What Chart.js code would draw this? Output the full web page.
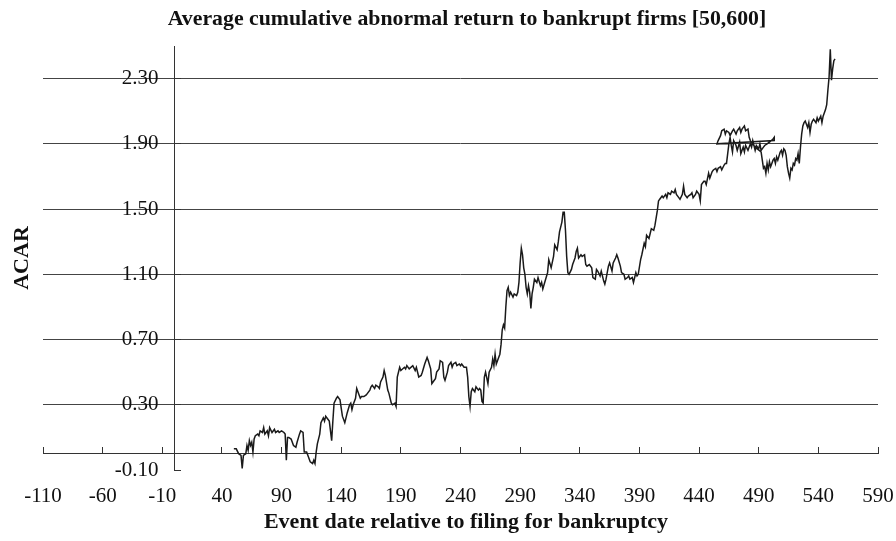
<!DOCTYPE html>
<html>
<head>
<meta charset="utf-8">
<title>Average cumulative abnormal return to bankrupt firms</title>
<script src="https://cdn.jsdelivr.net/npm/chart.js@4.4.1/dist/chart.umd.min.js"></script>
<style>
  html, body { margin: 0; padding: 0; background: #fff; }
  #wrap { width: 896px; height: 541px; }
</style>
</head>
<body>
<div id="wrap"><canvas id="acarChart" width="896" height="541"></canvas></div>
<script>
// event day relative to filing, and the ACAR
// (the series doubles back around day 455-503, as in the original plot)
const eventDays = [
  50, 52, 54, 56, 57, 58, 60, 61, 62, 63, 64, 65, 66, 67, 68, 70, 71, 72, 74, 75,
  76, 78, 79, 80, 82, 84, 85, 87, 88, 90, 92, 93, 94, 95, 96, 98, 100, 102, 103, 105,
  106, 108, 109, 111, 112, 114, 116, 117, 118, 119, 120, 122, 123, 125, 126, 127, 129, 130, 132, 133,
  134, 136, 137, 139, 140, 141, 143, 144, 145, 147, 148, 149, 150, 152, 153, 155, 156, 157, 159, 161,
  162, 164, 165, 166, 168, 169, 171, 172, 173, 175, 176, 177, 179, 180, 182, 183, 185, 186, 187, 189,
  190, 193, 194, 195, 197, 200, 202, 203, 205, 207, 208, 210, 212, 213, 215, 216, 218, 219, 220, 222,
  223, 225, 226, 227, 229, 230, 232, 233, 234, 236, 237, 239, 240, 241, 243, 245, 246, 247, 248, 249,
  250, 252, 253, 255, 256, 257, 258, 259, 260, 261, 263, 264, 266, 267, 268, 269, 270, 272, 273, 274,
  275, 276, 277, 278, 279, 280, 281, 282, 284, 285, 287, 288, 289, 290, 291, 292, 293, 294, 295, 296,
  297, 298, 299, 300, 301, 302, 304, 305, 307, 308, 309, 311, 313, 314, 316, 318, 319, 321, 322, 323,
  325, 326, 327, 328, 329, 330, 331, 333, 334, 336, 337, 338, 339, 341, 342, 344, 345, 346, 348, 350,
  351, 353, 354, 355, 357, 358, 360, 361, 362, 364, 365, 367, 368, 370, 371, 372, 374, 375, 377, 378,
  380, 381, 382, 384, 385, 387, 388, 389, 391, 392, 394, 395, 396, 398, 399, 400, 402, 403, 405, 406,
  407, 409, 410, 412, 413, 414, 416, 417, 419, 420, 421, 423, 424, 426, 427, 428, 430, 431, 433, 434,
  435, 437, 438, 440, 441, 442, 444, 445, 446, 448, 449, 451, 452, 454, 455, 456, 458, 459, 461, 462,
  463, 464, 465, 466, 467, 468, 469, 471, 472, 474, 475, 477, 478, 479, 481, 483, 484, 485, 487, 488,
  490, 491, 492, 494, 495, 497, 499, 502, 503, 503,
  455, 456, 458, 459, 461, 462, 463, 465, 466, 468, 469, 471, 472, 474, 475, 476, 478, 479, 481, 482,
  483, 487, 492, 493, 494, 495, 496, 497, 498, 499, 500, 502, 503, 504, 505, 506, 508, 509, 510, 511,
  512, 513, 514, 515, 516, 517, 518, 519, 520, 521, 522, 523, 524, 525, 526, 527, 528, 529, 531, 532,
  533, 534, 535, 536, 538, 539, 540, 542, 543, 544, 546, 547, 548, 549, 550, 551, 552, 553, 554
];
const acar = [
  0.03, 0.03, 0.00, -0.01, -0.09, -0.01, 0.00, 0.05, 0.02, 0.08, 0.05, 0.07, 0.01, 0.09, 0.11, 0.12, 0.11, 0.14, 0.13, 0.16,
  0.12, 0.14, 0.11, 0.16, 0.13, 0.15, 0.13, 0.14, 0.13, 0.14, 0.13, 0.12, -0.04, 0.10, 0.10, 0.09, 0.05, 0.04, 0.07, 0.12,
  0.14, 0.13, 0.01, 0.01, -0.01, -0.05, -0.06, -0.04, -0.06, 0.01, 0.06, 0.12, 0.19, 0.22, 0.20, 0.23, 0.21, 0.20, 0.08, 0.20,
  0.31, 0.34, 0.35, 0.33, 0.28, 0.23, 0.19, 0.22, 0.25, 0.30, 0.31, 0.27, 0.30, 0.34, 0.40, 0.36, 0.34, 0.35, 0.35, 0.36,
  0.37, 0.39, 0.41, 0.42, 0.40, 0.42, 0.41, 0.40, 0.44, 0.47, 0.51, 0.48, 0.39, 0.37, 0.31, 0.30, 0.31, 0.29, 0.47, 0.53,
  0.51, 0.53, 0.52, 0.54, 0.52, 0.54, 0.51, 0.53, 0.47, 0.48, 0.50, 0.55, 0.59, 0.57, 0.52, 0.43, 0.45, 0.46, 0.50, 0.52,
  0.57, 0.56, 0.47, 0.45, 0.50, 0.54, 0.56, 0.53, 0.55, 0.56, 0.54, 0.55, 0.54, 0.55, 0.53, 0.53, 0.47, 0.35, 0.29, 0.38,
  0.40, 0.38, 0.41, 0.39, 0.40, 0.39, 0.32, 0.31, 0.47, 0.50, 0.43, 0.50, 0.53, 0.58, 0.54, 0.61, 0.55, 0.59, 0.61, 0.67,
  0.76, 0.79, 0.77, 0.90, 1.00, 1.02, 0.97, 0.99, 0.96, 0.98, 0.97, 0.99, 1.05, 1.17, 1.26, 1.22, 1.14, 1.10, 1.02, 0.98,
  1.03, 0.99, 0.89, 0.98, 1.02, 1.07, 1.05, 1.08, 1.03, 1.05, 1.01, 1.06, 1.11, 1.19, 1.14, 1.21, 1.28, 1.25, 1.30, 1.36,
  1.42, 1.48, 1.48, 1.37, 1.21, 1.11, 1.10, 1.13, 1.16, 1.20, 1.24, 1.26, 1.20, 1.22, 1.21, 1.22, 1.16, 1.15, 1.16, 1.14,
  1.08, 1.07, 1.13, 1.12, 1.09, 1.12, 1.06, 1.04, 1.07, 1.15, 1.17, 1.12, 1.17, 1.20, 1.22, 1.20, 1.15, 1.11, 1.10, 1.07,
  1.08, 1.09, 1.07, 1.08, 1.05, 1.11, 1.09, 1.10, 1.19, 1.22, 1.29, 1.27, 1.34, 1.32, 1.35, 1.38, 1.37, 1.40, 1.49, 1.55,
  1.56, 1.58, 1.57, 1.59, 1.57, 1.60, 1.59, 1.61, 1.60, 1.62, 1.59, 1.57, 1.56, 1.59, 1.64, 1.59, 1.57, 1.58, 1.59, 1.60,
  1.57, 1.59, 1.61, 1.59, 1.55, 1.65, 1.67, 1.67, 1.65, 1.72, 1.69, 1.73, 1.74, 1.75, 1.73, 1.75, 1.76, 1.74, 1.77, 1.78,
  1.78, 1.84, 1.90, 1.94, 1.89, 1.85, 1.92, 1.89, 1.86, 1.91, 1.84, 1.88, 1.85, 1.89, 1.86, 1.90, 1.88, 1.92, 1.86, 1.89,
  1.87, 1.90, 1.86, 1.88, 1.89, 1.90, 1.91, 1.93, 1.94, 1.92,
  1.90, 1.92, 1.95, 1.98, 1.99, 1.96, 1.98, 1.97, 1.95, 1.98, 1.99, 1.96, 1.98, 2.00, 1.97, 1.99, 2.01, 1.98, 1.99, 1.94,
  1.92, 1.88, 1.85, 1.80, 1.75, 1.76, 1.72, 1.78, 1.74, 1.79, 1.76, 1.80, 1.81, 1.78, 1.82, 1.80, 1.85, 1.86, 1.83, 1.87,
  1.86, 1.83, 1.76, 1.72, 1.69, 1.75, 1.74, 1.78, 1.77, 1.81, 1.80, 1.84, 1.78, 1.88, 1.96, 2.01, 2.03, 2.04, 2.00, 2.03,
  1.97, 2.02, 2.04, 2.05, 2.03, 2.06, 2.04, 2.07, 2.03, 2.07, 2.11, 2.14, 2.23, 2.31, 2.48, 2.29, 2.36, 2.41, 2.42
];

const xTicks = [-110, -60, -10, 40, 90, 140, 190, 240, 290, 340, 390, 440, 490, 540, 590];
const yTicks = [-0.10, 0.30, 0.70, 1.10, 1.50, 1.90, 2.30];

const chartTitle = 'Average cumulative abnormal return to bankrupt firms [50,600]';
const xTitle = 'Event date relative to filing for bankruptcy';
const yTitle = 'ACAR';

const serif = '"Liberation Serif", "Times New Roman", Times, serif';

// title and axis titles, placed like the printed figure
const titlesPlugin = {
    id: 'figureTitles',
    afterDraw(chart) {
        const ctx = chart.ctx;
        ctx.save();
        ctx.fillStyle = '#111';
        ctx.textAlign = 'center';
        ctx.textBaseline = 'middle';
        ctx.font = 'bold 21.8px ' + serif;
        ctx.fillText(chartTitle, 467, 19);
        ctx.font = 'bold 22px ' + serif;
        ctx.fillText(xTitle, 466, 522);
        ctx.translate(22, 258);
        ctx.rotate(-Math.PI / 2);
        ctx.fillText(yTitle, 0, 0);
        ctx.restore();
    }
};

const points = eventDays.map((d, i) => ({ x: d, y: acar[i] }));

new Chart(document.getElementById('acarChart'), {
    type: 'scatter',
    data: {
        datasets: [{
            data: points,
            showLine: true,
            borderColor: '#1a1a1a',
            borderWidth: 1.5,
            pointRadius: 0,
            tension: 0
        }]
    },
    options: {
        responsive: false,
        animation: false,
        devicePixelRatio: 1,
        layout: { padding: { left: 43, right: 18, top: 46, bottom: 71 } },
        plugins: {
            legend: { display: false },
            tooltip: { enabled: false }
        },
        scales: {
            x: {
                type: 'linear',
                position: { y: 0 },
                min: -110,
                max: 590,
                afterBuildTicks: (s) => { s.ticks = xTicks.map(v => ({ value: v })); },
                grid: { drawOnChartArea: false, drawTicks: true, tickLength: -7, tickColor: '#333', tickWidth: 1 },
                border: { display: true, color: '#333', width: 1 },
                ticks: {
                    // labels sit well below the axis; a tall line box moves them
                    // down without widening the layout padding
                    padding: 0,
                    color: '#111',
                    maxRotation: 0,
                    autoSkip: false,
                    font: { family: serif, size: 21, lineHeight: 4.7 }
                }
            },
            y: {
                type: 'linear',
                position: { x: 0 },
                min: -0.1,
                max: 2.5,
                afterBuildTicks: (s) => { s.ticks = yTicks.map(v => ({ value: v })); },
                grid: {
                    color: (c) => (c.tick && c.tick.value < 0 ? 'rgba(0,0,0,0)' : '#444'),
                    tickLength: -7,
                    tickColor: '#333',
                    lineWidth: 1
                },
                border: { display: true, color: '#333', width: 1 },
                ticks: {
                    color: '#111',
                    autoSkip: false,
                    font: { family: serif, size: 21 },
                    callback: (v) => Number(v).toFixed(2) + '   '
                }
            }
        }
    },
    plugins: [titlesPlugin]
});
</script>
</body>
</html>
